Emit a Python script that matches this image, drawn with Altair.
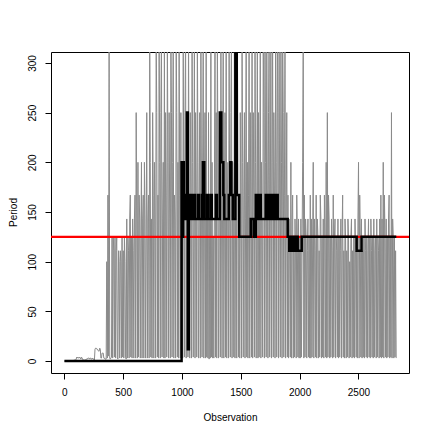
import altair as alt
import pandas as pd

# Gray series: observed period, one value every 5 observations (obs = 1, 6, 11, ...)
gray_vals = [
    0, 0, 0, 0, 0, 0, 0, 0, 0, 0, 0, 0, 0, 0, 0, 0, 1, 1, 1, 1,
    2, 4, 3, 4, 3, 3, 4, 3, 2, 4, 3, 2, 1, 1, 1, 1, 1, 2, 2, 2,
    3, 3, 3, 2, 3, 3, 2, 2, 3, 2, 2, 1, 12, 13, 13, 12, 12, 11, 10, 10,
    13, 12, 3, 3, 8, 8, 8, 3, 3, 2, 2, 2, 100, 3, 167, 5, 333, 3, 2, 3,
    4, 125, 3, 125, 111, 4, 125, 3, 111, 125, 3, 2, 111, 100, 3, 111, 100, 3, 125, 4,
    111, 3, 125, 100, 4, 2, 143, 3, 125, 111, 3, 143, 167, 4, 125, 3, 143, 111, 3, 143,
    167, 3, 250, 143, 3, 200, 4, 167, 143, 3, 125, 200, 3, 143, 167, 3, 200, 143, 3, 125,
    250, 3, 143, 167, 3, 333, 200, 4, 143, 3, 250, 167, 3, 200, 143, 3, 333, 250, 4, 167,
    3, 333, 200, 3, 250, 333, 4, 143, 200, 3, 333, 3, 250, 167, 4, 333, 200, 3, 250, 143,
    3, 333, 250, 4, 200, 333, 3, 167, 143, 3, 333, 250, 4, 200, 3, 333, 167, 3, 250, 5,
    200, 3, 333, 143, 4, 250, 333, 3, 167, 200, 4, 333, 143, 3, 250, 167, 3, 333, 200, 4,
    143, 333, 3, 250, 167, 4, 333, 200, 3, 143, 250, 3, 333, 167, 4, 200, 333, 3, 143, 250,
    3, 333, 4, 167, 3, 250, 2, 143, 3, 333, 4, 200, 3, 125, 3, 167, 333, 4, 250, 3,
    333, 200, 3, 143, 250, 4, 333, 167, 3, 200, 333, 3, 143, 250, 4, 333, 3, 167, 200, 3,
    333, 143, 4, 250, 333, 3, 200, 167, 4, 333, 3, 143, 250, 3, 333, 200, 4, 167, 3, 250,
    143, 3, 333, 200, 4, 167, 250, 3, 143, 333, 4, 200, 3, 167, 333, 3, 250, 143, 4, 333,
    3, 250, 167, 4, 333, 200, 3, 143, 333, 3, 250, 4, 167, 333, 3, 200, 143, 4, 333, 250,
    3, 333, 200, 4, 333, 167, 3, 250, 333, 4, 143, 333, 3, 200, 333, 4, 250, 167, 3, 333,
    200, 4, 333, 250, 3, 333, 143, 4, 333, 200, 3, 333, 250, 4, 167, 333, 3, 143, 250, 4,
    167, 3, 143, 125, 4, 200, 3, 143, 167, 3, 125, 4, 143, 111, 3, 167, 125, 4, 143, 3,
    125, 3, 143, 4, 111, 200, 333, 3, 167, 4, 143, 125, 3, 111, 143, 4, 125, 3, 167, 3,
    143, 4, 125, 200, 3, 143, 111, 4, 167, 3, 143, 125, 3, 111, 4, 167, 143, 3, 125, 4,
    143, 3, 167, 125, 4, 200, 3, 250, 4, 167, 143, 3, 125, 4, 143, 111, 3, 167, 4, 125,
    143, 3, 125, 111, 4, 143, 3, 125, 4, 111, 143, 3, 125, 167, 4, 111, 3, 143, 125, 3,
    111, 4, 143, 125, 3, 100, 4, 125, 143, 3, 111, 4, 125, 3, 143, 111, 4, 125, 3, 143,
    200, 3, 167, 125, 4, 143, 3, 111, 4, 125, 3, 143, 111, 4, 125, 3, 111, 143, 4, 125,
    3, 143, 111, 4, 125, 3, 143, 4, 111, 125, 3, 143, 4, 125, 111, 3, 143, 4, 167, 3,
    143, 4, 200, 3, 167, 125, 4, 143, 3, 125, 4, 143, 167, 3, 125, 4, 250, 3, 143, 125,
    3, 125, 4, 111, 3,
]
gray_obs = [1 + 5 * i for i in range(len(gray_vals))]

# Black step series: change points (observation, period)
step_obs = [1, 997, 1004, 1010, 1016, 1025, 1038, 1042, 1050, 1059, 1067, 1076,
            1089, 1097, 1110, 1135, 1144, 1169, 1178, 1190, 1212, 1224, 1246,
            1254, 1288, 1297, 1322, 1335, 1352, 1360, 1398, 1411, 1420, 1432,
            1454, 1466, 1487, 1585, 1610, 1628, 1640, 1653, 1670, 1712, 1729,
            1746, 1763, 1772, 1789, 1797, 1814, 1899, 1912, 1925, 1942, 1963,
            1984, 2018, 2485, 2527, 2822]
step_vals = [0, 200, 125, 200, 143, 167, 143, 250, 12, 167, 143, 167,
             143, 167, 143, 167, 143, 167, 200, 143, 167, 143, 167,
             143, 167, 143, 250, 200, 167, 143, 167, 200, 167, 143,
             333, 167, 125, 143, 125, 167, 143, 167, 143, 167, 143,
             167, 143, 167, 143, 167, 143, 125, 111, 125, 111, 125,
             111, 125, 111, 125, 125]

ref_period = [125]
x_ticks = [0, 500, 1000, 1500, 2000, 2500]
y_ticks = [0, 50, 100, 150, 200, 250, 300]

gray_df = pd.DataFrame({"obs": gray_obs, "period": gray_vals})
step_df = pd.DataFrame({"obs": step_obs, "period": step_vals})
ref_df = pd.DataFrame({"period": ref_period})

FONT = "Liberation Sans"

xscale = alt.Scale(domain=[-113, 2930], nice=False, zero=False)
yscale = alt.Scale(domain=[-12, 311], nice=False, zero=False)

xaxis = alt.Axis(values=x_ticks, format="d", title="Observation", grid=False, domain=False,
                 tickSize=6, tickColor="#000", labelPadding=13, labelBaseline="middle",
                 labelFont=FONT, labelFontSize=10, labelColor="#000",
                 titleFont=FONT, titleFontSize=10, titleFontWeight="normal", titleColor="#000",
                 titleY=44, titleBaseline="middle", labelFlush=False)
yaxis = alt.Axis(values=y_ticks, format="d", title="Period", grid=False, domain=False,
                 tickSize=6, tickColor="#000", labelPadding=13, labelAngle=270,
                 labelAlign="center", labelBaseline="middle",
                 labelFont=FONT, labelFontSize=10, labelColor="#000",
                 titleFont=FONT, titleFontSize=10, titleFontWeight="normal", titleColor="#000",
                 titleX=-38, titleY=160, titleAngle=270, titleAlign="center",
                 titleBaseline="middle", labelFlush=False)

gray = alt.Chart(gray_df).mark_line(color="#8a8a8a", strokeWidth=1, clip=True).encode(
    x=alt.X("obs:Q", scale=xscale, axis=xaxis),
    y=alt.Y("period:Q", scale=yscale, axis=yaxis),
)

red = alt.Chart(ref_df).mark_rule(color="#ff0000", strokeWidth=2.2).encode(
    y=alt.Y("period:Q", scale=yscale),
)

black = alt.Chart(step_df).mark_line(color="#000000", strokeWidth=2.5,
                                      interpolate="step-after", clip=True).encode(
    x=alt.X("obs:Q", scale=xscale),
    y=alt.Y("period:Q", scale=yscale),
)

chart = alt.layer(gray, red, black).properties(
    width=358, height=321,
    background="white",
    autosize=alt.AutoSizeParams(type="none"),
    padding={"left": 43, "top": 44, "right": 15, "bottom": 52},
).configure_view(stroke="#000000", strokeWidth=1)

chart.save("out.html", embed_options={"renderer": "svg", "actions": False})
